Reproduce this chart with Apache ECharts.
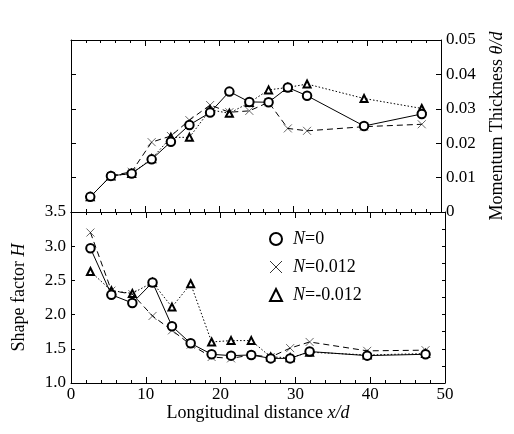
<!DOCTYPE html>
<html>
<head>
<meta charset="utf-8">
<script src="https://cdn.jsdelivr.net/npm/echarts@6/dist/echarts.min.js"></script>
<style>html,body{margin:0;padding:0;background:#fff;}#c{width:514px;height:434px;}</style>
</head>
<body>
<div id="c"></div>
<script>
var xVals = [2.6, 5.4, 8.2, 10.9, 13.5, 16.0, 18.8, 21.4, 24.1, 26.7, 29.3, 31.9, 39.6, 47.4];
var thetaN0  = [0.0044, 0.0105, 0.0112, 0.0153, 0.0204, 0.0253, 0.0289, 0.0350, 0.0320, 0.0319, 0.0362, 0.0338, 0.0250, 0.0285];
var thetaNp  = [0.0044, 0.0105, 0.0117, 0.0203, 0.0221, 0.0267, 0.0311, 0.0290, 0.0294, 0.0319, 0.0243, 0.0236, 0.0248, 0.0255];
var thetaNm  = [0.0044, 0.0105, 0.0112, 0.0155, 0.0217, 0.0217, 0.0297, 0.0287, 0.0318, 0.0355, 0.0362, 0.0372, 0.0330, 0.0301];
var hN0 = [2.97, 2.29, 2.17, 2.47, 1.83, 1.58, 1.42, 1.40, 1.41, 1.36, 1.36, 1.46, 1.40, 1.42];
var hNp = [3.20, 2.35, 2.30, 1.98, 1.77, 1.56, 1.38, 1.36, 1.41, 1.38, 1.51, 1.60, 1.47, 1.48];
var hNm = [2.63, 2.35, 2.31, 2.47, 2.11, 2.45, 1.60, 1.62, 1.62, 1.38, 1.37, 1.45, 1.41, 1.43];
var seriesNames = ['N=0', 'N=0.012', 'N=-0.012'];
var xTickLabels = ['0', '10', '20', '30', '40', '50'];

function pairs(ys) { return xVals.map(function (x, i) { return [x, ys[i]]; }); }

var FONT = 'Liberation Serif';
var crossSym = 'path://M0,0L10,10M10,0L0,10';
var symbols = ['emptyCircle', crossSym, 'emptyTriangle'];
var symSizes = [8.5, 8, 7];
var dashes = ['solid', [6, 4], [1.5, 2]];

var tickStyle = { color: '#000', width: 1 };
function xAx(grid, pos, showLabel) {
  return {
    type: 'value', gridIndex: grid, position: pos, min: 0, max: 50, interval: 10,
    axisLine: { show: true, onZero: false, lineStyle: { color: '#000', width: 1 } },
    axisTick: { show: true, inside: true, length: 6, lineStyle: tickStyle },
    minorTick: { show: true, splitNumber: 5, length: 3, lineStyle: tickStyle },
    splitLine: { show: false },
    axisLabel: { show: showLabel, color: '#000', fontFamily: FONT, fontSize: 17, margin: 3,
      formatter: function (v) { return xTickLabels[Math.round(v / 10)]; } }
  };
}

var option = {
  backgroundColor: '#fff',
  animation: false,
  grid: [
    { left: 71, right: 69, top: 40, height: 172 },
    { left: 71, right: 69, top: 212, height: 171 }
  ],
  xAxis: [
    xAx(0, 'bottom', false),
    xAx(0, 'top', false),
    xAx(1, 'top', false),
    Object.assign(xAx(1, 'bottom', true), {
      name: '{n|Longitudinal distance }{i|x/d}', nameLocation: 'middle', nameGap: 19,
      nameTextStyle: { rich: { n: { fontFamily: FONT, fontSize: 18, color: '#000' }, i: { fontFamily: FONT, fontSize: 18, fontStyle: 'italic', color: '#000' } } }
    })
  ],
  yAxis: [
    { type: 'value', gridIndex: 0, position: 'left', min: 0, max: 0.05, interval: 0.01,
      axisLine: { show: true, onZero: false, lineStyle: { color: '#000' } },
      axisTick: { show: true, inside: true, length: 5, lineStyle: tickStyle },
      splitLine: { show: false }, axisLabel: { show: false } },
    { type: 'value', gridIndex: 0, position: 'right', min: 0, max: 0.05, interval: 0.01,
      axisLine: { show: true, onZero: false, lineStyle: { color: '#000' } },
      axisTick: { show: true, inside: true, length: 5, lineStyle: tickStyle },
      splitLine: { show: false },
      axisLabel: { show: true, color: '#000', fontFamily: FONT, fontSize: 17, margin: 5,
        formatter: function (v) { return v === 0 ? '0' : v.toFixed(2); } },
      name: '{n|Momentum Thickness }{i|θ/d}', nameLocation: 'middle', nameRotate: 90, nameGap: 47,
      nameTextStyle: { rich: { n: { fontFamily: FONT, fontSize: 18, color: '#000' }, i: { fontFamily: FONT, fontSize: 18, fontStyle: 'italic', color: '#000' } } }
    },
    { type: 'value', gridIndex: 1, position: 'left', min: 1, max: 3.5, interval: 0.5,
      axisLine: { show: true, onZero: false, lineStyle: { color: '#000' } },
      axisTick: { show: true, inside: true, length: 4, lineStyle: tickStyle },
      splitLine: { show: false },
      axisLabel: { show: true, color: '#000', fontFamily: FONT, fontSize: 17, margin: 5,
        formatter: function (v) { return v.toFixed(1); } },
      name: '{n|Shape factor }{i|H}', nameLocation: 'middle', nameRotate: 90, nameGap: 43,
      nameTextStyle: { rich: { n: { fontFamily: FONT, fontSize: 18, color: '#000' }, i: { fontFamily: FONT, fontSize: 18, fontStyle: 'italic', color: '#000' } } }
    },
    { type: 'value', gridIndex: 1, position: 'right', min: 1, max: 3.5, interval: 0.25,
      axisLine: { show: true, onZero: false, lineStyle: { color: '#000' } },
      axisTick: { show: true, inside: true, length: 3, lineStyle: tickStyle },
      splitLine: { show: false }, axisLabel: { show: false } }
  ],
  legend: {
    orient: 'vertical', left: 264, top: 225, itemGap: 10, itemWidth: 12, itemHeight: 12,
    data: [
      { name: seriesNames[0], icon: 'emptyCircle' },
      { name: seriesNames[1], icon: crossSym },
      { name: seriesNames[2], icon: 'emptyTriangle' }
    ],
    formatter: function (name) { return '{i|N}{t|' + name.slice(1) + '}'; },
    textStyle: { rich: {
      i: { fontFamily: FONT, fontSize: 18, fontStyle: 'italic', color: '#000', padding: [0, 0, 0, 6] },
      t: { fontFamily: FONT, fontSize: 18, color: '#000' } } },
    itemStyle: { color: '#000', borderColor: '#000', borderWidth: 0.8 }
  },
  series: []
};

var topData = [thetaN0, thetaNp, thetaNm];
var botData = [hN0, hNp, hNm];
for (var k = 0; k < 3; k++) {
  var common = {
    type: 'line', name: seriesNames[k], symbol: symbols[k], symbolSize: symSizes[k],
    showAllSymbol: true,
    lineStyle: { color: '#000', width: 1, type: dashes[k] },
    itemStyle: { color: '#000', borderColor: '#000', borderWidth: 0.6 },
    z: 3 - k
  };
  option.series.push(Object.assign({}, common, { xAxisIndex: 0, yAxisIndex: 1, data: pairs(topData[k]) }));
  option.series.push(Object.assign({}, common, { xAxisIndex: 3, yAxisIndex: 2, data: pairs(botData[k]) }));
}

var chart = echarts.init(document.getElementById('c'), null, { renderer: 'canvas' });
chart.setOption(option);
</script>
</body>
</html>
